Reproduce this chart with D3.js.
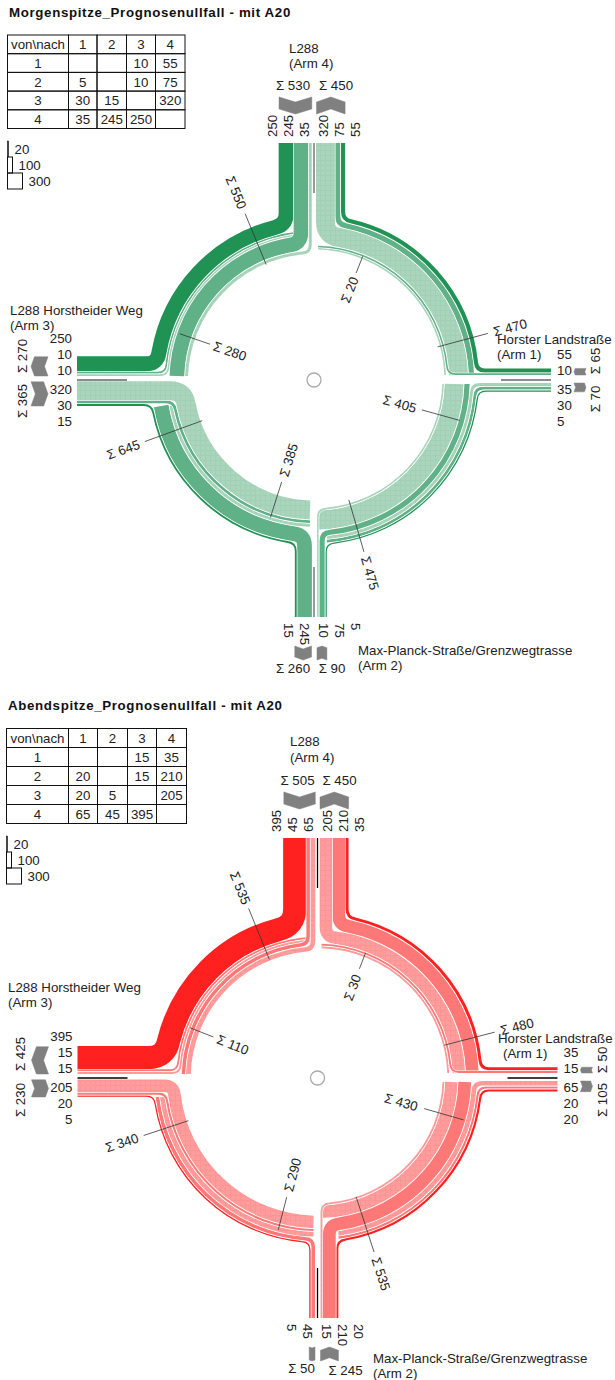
<!DOCTYPE html>
<html>
<head>
<meta charset="utf-8">
<script src="https://cdn.jsdelivr.net/npm/d3@7"></script>
<style>
  html, body { margin: 0; padding: 0; background: #fff; overflow: hidden; }
  text { font-family: "Liberation Sans", Arial, sans-serif; font-size: 13.3px; fill: #222; }
</style>
</head>
<body>
<div id="chart"></div>
<script>
// values: rows = von, columns = nach
const armIds = [1, 2, 3, 4];
const matrixMorning = [
  [null, null, 10, 55],
  [5, null, 10, 75],
  [30, 15, null, 320],
  [35, 245, 250, null]
];
const matrixEvening = [
  [null, null, 15, 35],
  [20, null, 15, 210],
  [20, 5, null, 205],
  [65, 45, 395, null]
];
// arm totals: [zu, ab] for arm 1..4
const armSumsMorning = [[65, 70], [90, 260], [365, 270], [530, 450]];
const armSumsEvening = [[50, 105], [245, 50], [230, 425], [505, 450]];
// ring totals, clockwise starting top left
const ringSumsMorning = [550, 280, 20, 470, 405, 475, 385, 645];
const ringSumsEvening = [535, 110, 30, 480, 430, 535, 290, 340];
const legendValues = [20, 100, 300];

const laneW = d3.scaleLinear().domain([0, 300]).range([1.2, 16.8]);
const ringW = d3.scaleLinear().domain([0, 300]).range([1, 17.8]);
const legendW = d3.scaleLinear().domain([0, 300]).range([0, 15]);

const armDir = { 1: [1, 0], 2: [0, 1], 3: [-1, 0], 4: [0, -1] };
const armAngle = { 1: 0, 2: Math.PI / 2, 3: Math.PI, 4: Math.PI * 1.5 };

// lanes on each arm, from the median outwards
const originLanes = { 1: ["1-3", "1-4"], 2: ["2-3", "2-4", "2-1"], 3: ["3-4", "3-1", "3-2"], 4: ["4-1", "4-2", "4-3"] };
const destLanes = { 1: ["4-1", "3-1", "2-1"], 2: ["4-2", "3-2"], 3: ["2-3", "1-3", "4-3"], 4: ["3-4", "2-4", "1-4"] };
const medianGap = { 1: [5, 3], 2: [3, 2.5], 3: [1.8, 4], 4: [2.2, 2.5] };

// ring quadrants in driving order, stack from outer to inner
const quads = [
  { start: 4, end: 3, stack: ["4-3", "1-3", "2-3", "4-2", "4-1"] },
  { start: 3, end: 2, stack: ["3-2", "4-2", "4-1", "3-1", "3-4"] },
  { start: 2, end: 1, stack: ["2-1", "3-1", "4-1", "2-4", "3-4", "2-3"] },
  { start: 1, end: 4, stack: ["1-4", "2-4", "3-4", "1-3", "2-3"] }
];
const ringOuter = 165;
const laneGap = 0.8, ringGap = 0.8;

const palettes = {
  green: { dark: "#1f9254", mid: "#60b088", light: "#a9d5bc", dot: "#a1d0b5", median: "#666" },
  red: { dark: "#ff2020", mid: "#ff7878", light: "#ff9c9c", dot: "#ff9494", median: "#000" }
};

const panels = [
  {
    title: "Morgenspitze_Prognosenullfall - mit A20", titleX: 9, titleY: 17,
    matrix: matrixMorning, armSums: armSumsMorning, ringSums: ringSumsMorning, palette: "green",
    cx: 314, cy: 380, armLen: 237,
    tableX: [7.5, 68.5, 97, 126.5, 155.5, 185], tableY: 35, rowH: 18.7,
    legendX: 7.5, legendY: 141,
    ticks: [[247.5, 125, 180, 203], [199, 142, 110, 89], [291.5, 133, 115, 97], [345, 128, 180, 203],
            [15.5, 151, 112, 89], [73.8, 125, 179, 201], [107.6, 144, 107, 84], [160, 119, 180, 203]],
    sumPos: { 1: [[281, -19], [281, 19]], 2: [[18, 288], [-21, 288]], 3: [[-292, 21], [-292, -24]], 4: [[-21, -295], [22, -295]] },
    names: [["Horster Landstraße", 497, 344], ["(Arm 1)", 497, 359], ["Max-Planck-Straße/Grenzwegtrasse", 358, 655], ["(Arm 2)", 358, 670],
            ["L288 Horstheider Weg", 10, 315], ["(Arm 3)", 10, 330], ["L288", 289, 53], ["(Arm 4)", 289, 68]]
  },
  {
    title: "Abendspitze_Prognosenullfall - mit A20", titleX: 8, titleY: 710,
    matrix: matrixEvening, armSums: armSumsEvening, ringSums: ringSumsEvening, palette: "red",
    cx: 317.5, cy: 1078, armLen: 240,
    tableX: [6.5, 68.5, 97.5, 127.5, 156.5, 186.5], tableY: 728.5, rowH: 19,
    legendX: 6.5, legendY: 836,
    ticks: [[247.9, 128, 183, 205], [201.5, 137, 112, 91], [291, 134, 117, 97], [345.5, 131, 183, 206],
            [16, 152, 111, 87], [72, 125, 183, 206], [104.5, 157, 123, 100], [161.7, 136, 183, 206]],
    sumPos: { 1: [[285, -18], [285, 22]], 2: [[28, 292], [-16, 290]], 3: [[-297, 22], [-297, -24]], 4: [[-20, -298], [22, -298]] },
    names: [["Horster Landstraße", 498, 1043], ["(Arm 1)", 503, 1058], ["Max-Planck-Straße/Grenzwegtrasse", 373, 1363], ["(Arm 2)", 373, 1378],
            ["L288 Horstheider Weg", 8, 992], ["(Arm 3)", 8, 1007], ["L288", 290, 746], ["(Arm 4)", 290, 762]]
  }
];

const svg = d3.select("#chart").append("svg").attr("width", 615).attr("height", 1380);
const defs = svg.append("defs");

Object.entries(palettes).forEach(([name, p]) => {
  let pat = defs.append("pattern").attr("id", "dots-" + name)
    .attr("patternUnits", "userSpaceOnUse").attr("width", 5).attr("height", 5);
  pat.append("rect").attr("width", 5).attr("height", 5).attr("fill", p.light);
  pat.append("rect").attr("width", 1).attr("height", 5).attr("fill", p.dot);
  pat.append("rect").attr("width", 5).attr("height", 1).attr("fill", p.dot);
});

panels.forEach(drawPanel);

function drawPanel(panel) {
  const g = svg.append("g");
  const colors = palettes[panel.palette];

  g.append("text").attr("x", panel.titleX).attr("y", panel.titleY)
    .attr("font-weight", "bold").style("letter-spacing", "0.65px")
    .style("fill", "#111").text(panel.title);

  drawTable(g, panel);
  drawLegend(g, panel);

  const value = key => {
    let [a, b] = key.split("-").map(Number);
    return panel.matrix[a - 1][b - 1];
  };

  // lateral lane positions on the arms
  const laneOffset = {};
  const laneExtent = {};
  armIds.forEach(arm => {
    laneOffset[arm] = { origin: {}, dest: {} };
    laneExtent[arm] = {};
    [["origin", originLanes[arm], medianGap[arm][0]], ["dest", destLanes[arm], medianGap[arm][1]]].forEach(([side, lanes, gap]) => {
      let cum = gap;
      lanes.forEach(key => {
        let w = laneW(value(key));
        laneOffset[arm][side][key] = cum + w / 2;
        cum += w + laneGap;
      });
      laneExtent[arm][side] = cum - laneGap;
    });
  });

  // ring radius of each flow per quadrant
  const ringRadius = quads.map(q => {
    let r = ringOuter, out = {};
    q.stack.forEach(key => {
      let w = ringW(value(key));
      out[key] = r - w / 2;
      r -= w + ringGap;
    });
    return out;
  });

  const armPoint = (arm, t, o, side) => {
    let d = armDir[arm], s = side === "origin" ? 1 : -1;
    return [panel.cx + d[0] * t + d[1] * o * s, panel.cy + d[1] * t - d[0] * o * s];
  };
  const onCircle = (r, a) => [panel.cx + r * Math.cos(a), panel.cy + r * Math.sin(a)];

  function near(a, ref) {
    while (a > ref + Math.PI) a -= Math.PI * 2;
    while (a < ref - Math.PI) a += Math.PI * 2;
    return a;
  }

  function startCut(q, key) {
    if (q.start === 3) return laneExtent[3].origin;
    if (q.start === 2) return key === "3-4" ? 4 : laneExtent[2].origin;
    if (q.start === 1) return 5;
    return 4;
  }

  function piecePath(qi, key) {
    const q = quads[qi];
    const [from, to] = key.split("-").map(Number);
    const r = ringRadius[qi][key];
    const fillet = Math.max(8, laneW(value(key)) * 0.8);
    const startRef = q.start === 1 ? 0 : armAngle[q.start];
    const endRef = q.end === 4 ? -Math.PI / 2 : armAngle[q.end];
    let p = d3.path(), a0, a1;

    if (q.start === from) {
      let o = laneOffset[from].origin[key], t = Math.sqrt(r * r - o * o);
      let corner = armPoint(from, t, o, "origin");
      let a = near(Math.atan2(corner[1] - panel.cy, corner[0] - panel.cx), startRef);
      a0 = a - fillet / r;
      let begin = armPoint(from, panel.armLen, o, "origin"), bend = armPoint(from, t + fillet, o, "origin"), on = onCircle(r, a0);
      p.moveTo(begin[0], begin[1]);
      p.lineTo(bend[0], bend[1]);
      p.quadraticCurveTo(corner[0], corner[1], on[0], on[1]);
    } else {
      a0 = startRef - Math.asin(startCut(q, key) / r);
      let on = onCircle(r, a0);
      p.moveTo(on[0], on[1]);
    }

    if (q.end === to) {
      let o = laneOffset[to].dest[key], t = Math.sqrt(r * r - o * o);
      let corner = armPoint(to, t, o, "dest");
      let a = near(Math.atan2(corner[1] - panel.cy, corner[0] - panel.cx), endRef);
      a1 = a + fillet / r;
      p.arc(panel.cx, panel.cy, r, a0, a1, true);
      let bend = armPoint(to, t + fillet, o, "dest"), finish = armPoint(to, panel.armLen, o, "dest");
      p.quadraticCurveTo(corner[0], corner[1], bend[0], bend[1]);
      p.lineTo(finish[0], finish[1]);
    } else {
      a1 = endRef + Math.asin(4 / r);
      p.arc(panel.cx, panel.cy, r, a0, a1, true);
    }
    return p.toString();
  }

  function flowColor(key) {
    let [a, b] = key.split("-").map(Number);
    let diff = (a - b + 4) % 4;
    if (diff === 1) return colors.dark;
    if (diff === 2) return colors.mid;
    return "url(#dots-" + panel.palette + ")";
  }

  // pieces that continue from the previous quadrant go below the ones entering from an arm
  let pieces = [];
  quads.forEach((q, qi) => {
    q.stack.forEach(key => {
      let from = +key[0];
      pieces.push({ qi, key, entering: q.start === from });
    });
  });
  pieces.sort((a, b) => d3.ascending(a.entering, b.entering));

  const bands = g.append("g").attr("fill", "none");
  pieces.forEach(d => {
    let path = piecePath(d.qi, d.key);
    let w = ringW(value(d.key));
    bands.append("path").attr("d", path).attr("stroke", "#fff").attr("stroke-width", w + 1.2);
    bands.append("path").attr("d", path).attr("stroke", flowColor(d.key)).attr("stroke-width", w);
  });

  armIds.forEach(arm => {
    // lane values
    [["origin", originLanes[arm]], ["dest", destLanes[arm]]].forEach(([side, lanes]) => {
      lanes.forEach((key, i) => {
        let lp = armPoint(arm, panel.armLen + labelGap(arm), labelOffset(i), side);
        let rot = arm === 4 ? -90 : arm === 2 ? 90 : 0;
        let anchor = arm === 3 ? "end" : "start";
        g.append("text")
          .attr("transform", "translate(" + lp[0] + "," + lp[1] + ") rotate(" + rot + ")")
          .attr("text-anchor", anchor).attr("dy", "0.36em").text(value(key));
      });
    });

    // chevrons
    let along = arm === 2 ? [29, 43] : arm === 1 ? [23, 35] : [29, 46];
    [["origin", medianGap[arm][0]], ["dest", medianGap[arm][1]]].forEach(([side, gap]) => {
      let extent = laneExtent[arm][side], w = extent - gap, mid = gap + w / 2;
      let nd = Math.min(5, w * 0.18);
      let t0 = panel.armLen + along[0], t1 = panel.armLen + along[1];
      let tail = side === "origin" ? t1 : t0, sign = side === "origin" ? -1 : 1, len = t1 - t0;
      let shape = [[0, -w / 2], [nd, 0], [0, w / 2], [len - nd, w / 2], [len, 0], [len - nd, -w / 2]];
      let pts = shape.map(s => armPoint(arm, tail + sign * s[0], mid + s[1], side));
      g.append("path").attr("d", d3.line()(pts) + "Z").attr("fill", "#808080")
        .attr("stroke", "#808080").attr("stroke-width", 0.5).attr("stroke-linejoin", "round");
    });

    // median line
    let a = armPoint(arm, panel.armLen, 0, "origin"), b = armPoint(arm, panel.armLen - 50, 0, "origin");
    g.append("line").attr("x1", a[0]).attr("y1", a[1]).attr("x2", b[0]).attr("y2", b[1])
      .attr("stroke", colors.median).attr("stroke-width", 1.3);

    // arm totals
    ["origin", "dest"].forEach((side, i) => {
      let pos = panel.sumPos[arm][i];
      let rot = arm === 1 || arm === 3 ? -90 : 0;
      g.append("text").attr("text-anchor", "middle").attr("dy", "0.36em")
        .attr("transform", "translate(" + (panel.cx + pos[0]) + "," + (panel.cy + pos[1]) + ") rotate(" + rot + ")")
        .text("Σ " + panel.armSums[arm - 1][i]);
    });
  });

  // ring totals with their tick lines
  panel.ticks.forEach((t, i) => {
    let a = t[0] * Math.PI / 180;
    let p0 = onCircle(t[1], a), p1 = onCircle(t[2], a), lp = onCircle(t[3], a);
    let rot = t[0];
    while (rot > 90) rot -= 180;
    g.append("line").attr("x1", p0[0]).attr("y1", p0[1]).attr("x2", p1[0]).attr("y2", p1[1])
      .attr("stroke", "#333").attr("stroke-width", 0.8);
    g.append("text").attr("text-anchor", "middle").attr("dy", "0.36em")
      .attr("transform", "translate(" + lp[0] + "," + lp[1] + ") rotate(" + rot + ")")
      .text("Σ " + panel.ringSums[i]);
  });

  g.append("circle").attr("cx", panel.cx).attr("cy", panel.cy).attr("r", 7)
    .attr("fill", "#fff").attr("stroke", "#aaa").attr("stroke-width", 1.3);

  g.selectAll(".armname").data(panel.names).enter().append("text")
    .attr("x", d => d[1]).attr("y", d => d[2]).text(d => d[0]);
}

function labelOffset(i) { return 9.5 + 16 * i; }
function labelGap(arm) { return arm === 3 ? 5 : 6; }

function drawTable(g, panel) {
  const xs = panel.tableX, y0 = panel.tableY, h = panel.rowH;
  const t = g.append("g");
  const head = ["von\\nach", ...armIds];
  const rows = [head, ...armIds.map((a, i) => [a, ...panel.matrix[i]])];
  rows.forEach((row, r) => {
    row.forEach((cell, c) => {
      t.append("rect").attr("x", xs[c]).attr("y", y0 + r * h).attr("width", xs[c + 1] - xs[c]).attr("height", h)
        .attr("fill", "none").attr("stroke", "#111").attr("stroke-width", 1);
      if (cell !== null) {
        t.append("text").attr("x", (xs[c] + xs[c + 1]) / 2).attr("y", y0 + r * h + h / 2)
          .attr("text-anchor", "middle").attr("dy", "0.36em").text(cell);
      }
    });
  });
}

function drawLegend(g, panel) {
  const boxH = 16;
  legendValues.forEach((v, i) => {
    let w = legendW(v);
    let y = panel.legendY + i * boxH;
    g.append("rect").attr("x", panel.legendX).attr("y", y).attr("width", w).attr("height", boxH)
      .attr("fill", i === 0 ? "#000" : "none").attr("stroke", "#111").attr("stroke-width", i === 0 ? 0.5 : 1);
    g.append("text").attr("x", panel.legendX + w + 6).attr("y", y + boxH / 2).attr("dy", "0.36em").text(v);
  });
}
</script>
</body>
</html>
